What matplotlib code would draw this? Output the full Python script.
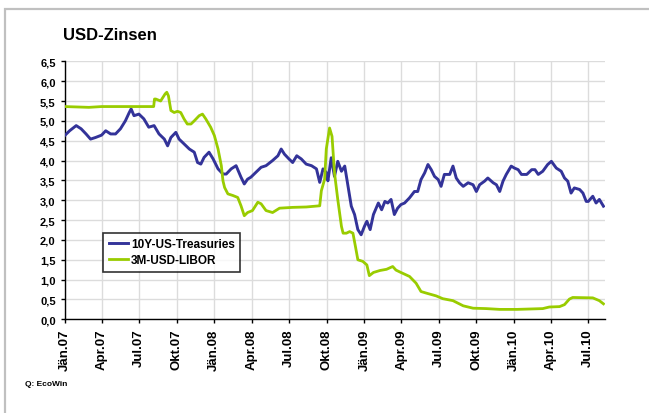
import numpy as np
import pandas as pd
import matplotlib
matplotlib.use('Agg')
import matplotlib.pyplot as plt
from matplotlib.patches import Rectangle
from matplotlib.ticker import FuncFormatter

plt.rcParams['font.family'] = ['Liberation Sans', 'DejaVu Sans']

# 10Y US Treasuries
tsy_dates = [
    '2007-01-01', '2007-01-13', '2007-01-29', '2007-02-10', '2007-02-22', '2007-03-05',
    '2007-03-17', '2007-04-01', '2007-04-11', '2007-04-23', '2007-05-05', '2007-05-17',
    '2007-05-29', '2007-06-07', '2007-06-12', '2007-06-19', '2007-07-01', '2007-07-13',
    '2007-07-25', '2007-08-07', '2007-08-19', '2007-09-01', '2007-09-09', '2007-09-17',
    '2007-09-29', '2007-10-07', '2007-10-19', '2007-11-01', '2007-11-13', '2007-11-21',
    '2007-11-29', '2007-12-07', '2007-12-19', '2007-12-29', '2008-01-10', '2008-01-22',
    '2008-01-30', '2008-02-11', '2008-02-23', '2008-03-06', '2008-03-14', '2008-03-22',
    '2008-03-30', '2008-04-11', '2008-04-24', '2008-05-06', '2008-05-22', '2008-06-04',
    '2008-06-12', '2008-06-20', '2008-07-01', '2008-07-10', '2008-07-20', '2008-07-31',
    '2008-08-12', '2008-08-25', '2008-09-06', '2008-09-14', '2008-09-22', '2008-09-30',
    '2008-10-04', '2008-10-12', '2008-10-20', '2008-10-28', '2008-11-06', '2008-11-14',
    '2008-11-22', '2008-11-30', '2008-12-08', '2008-12-16', '2008-12-24', '2009-01-01',
    '2009-01-07', '2009-01-15', '2009-01-23', '2009-02-04', '2009-02-12', '2009-02-20',
    '2009-02-27', '2009-03-07', '2009-03-15', '2009-03-23', '2009-03-31', '2009-04-09',
    '2009-04-21', '2009-05-03', '2009-05-11', '2009-05-19', '2009-05-28', '2009-06-05',
    '2009-06-13', '2009-06-21', '2009-06-30', '2009-07-07', '2009-07-15', '2009-07-28',
    '2009-08-05', '2009-08-13', '2009-08-21', '2009-08-30', '2009-09-11', '2009-09-23',
    '2009-10-01', '2009-10-09', '2009-10-21', '2009-10-29', '2009-11-11', '2009-11-19',
    '2009-11-27', '2009-12-05', '2009-12-13', '2009-12-25', '2010-01-02', '2010-01-11',
    '2010-01-19', '2010-02-01', '2010-02-13', '2010-02-21', '2010-03-01', '2010-03-12',
    '2010-03-24', '2010-04-02', '2010-04-14', '2010-04-26', '2010-05-04', '2010-05-12',
    '2010-05-20', '2010-05-28', '2010-06-10', '2010-06-18', '2010-06-26', '2010-07-01',
    '2010-07-12', '2010-07-20', '2010-07-28', '2010-08-07',
]
tsy_values = [
    4.63, 4.75, 4.88, 4.80, 4.67, 4.54,
    4.58, 4.64, 4.75, 4.67, 4.67, 4.80,
    5.00, 5.20, 5.30, 5.13, 5.17, 5.05,
    4.84, 4.88, 4.67, 4.54, 4.37, 4.58,
    4.71, 4.54, 4.42, 4.29, 4.21, 3.95,
    3.91, 4.08, 4.21, 4.04, 3.79, 3.66,
    3.66, 3.79, 3.87, 3.58, 3.41, 3.53,
    3.58, 3.70, 3.83, 3.87, 4.00, 4.12,
    4.29, 4.16, 4.04, 3.95, 4.12, 4.04,
    3.91, 3.87, 3.79, 3.45, 3.79, 3.70,
    3.49, 4.07, 3.60, 3.98, 3.73, 3.86,
    3.35, 2.85, 2.64, 2.26, 2.13, 2.34,
    2.47, 2.26, 2.64, 2.93, 2.76, 2.97,
    2.93, 3.02, 2.64, 2.80, 2.89, 2.93,
    3.06, 3.22, 3.22, 3.52, 3.69, 3.90,
    3.77, 3.60, 3.52, 3.35, 3.65, 3.65,
    3.86, 3.56, 3.44, 3.35, 3.44, 3.39,
    3.22, 3.39, 3.48, 3.56, 3.44, 3.39,
    3.22, 3.48, 3.65, 3.86, 3.81, 3.77,
    3.65, 3.65, 3.77, 3.77, 3.65, 3.73,
    3.90, 3.98, 3.81, 3.73, 3.56, 3.48,
    3.18, 3.31, 3.27, 3.18, 2.97, 2.97,
    3.10, 2.93, 3.02, 2.85,
]

# 3M USD LIBOR
libor_dates = [
    '2007-01-01', '2007-03-01', '2007-04-01', '2007-08-06', '2007-08-08', '2007-08-11',
    '2007-08-23', '2007-09-03', '2007-09-07', '2007-09-11', '2007-09-17', '2007-09-25',
    '2007-10-03', '2007-10-11', '2007-10-19', '2007-10-27', '2007-11-05', '2007-11-13',
    '2007-11-25', '2007-12-03', '2007-12-11', '2007-12-23', '2008-01-01', '2008-01-10',
    '2008-01-18', '2008-01-22', '2008-01-26', '2008-02-03', '2008-02-15', '2008-02-27',
    '2008-03-06', '2008-03-14', '2008-03-22', '2008-04-03', '2008-04-16', '2008-04-24',
    '2008-05-06', '2008-05-22', '2008-06-08', '2008-07-10', '2008-08-12', '2008-09-14',
    '2008-09-18', '2008-09-26', '2008-09-30', '2008-10-08', '2008-10-14', '2008-10-20',
    '2008-10-28', '2008-11-06', '2008-11-10', '2008-11-18', '2008-11-26', '2008-12-04',
    '2008-12-10', '2008-12-16', '2008-12-28', '2009-01-07', '2009-01-13', '2009-01-23',
    '2009-02-08', '2009-02-24', '2009-03-11', '2009-03-19', '2009-03-31', '2009-04-21',
    '2009-05-07', '2009-05-19', '2009-06-01', '2009-06-25', '2009-07-11', '2009-08-05',
    '2009-08-30', '2009-09-23', '2009-10-25', '2009-11-27', '2010-01-08', '2010-02-09',
    '2010-03-12', '2010-03-28', '2010-04-22', '2010-05-04', '2010-05-16', '2010-05-24',
    '2010-07-12', '2010-07-28', '2010-08-07',
]
libor_values = [
    5.36, 5.34, 5.36, 5.36, 5.55, 5.55,
    5.50, 5.68, 5.72, 5.63, 5.26, 5.21,
    5.24, 5.21, 5.05, 4.92, 4.92, 5.00,
    5.13, 5.17, 5.05, 4.84, 4.63, 4.29,
    3.87, 3.49, 3.32, 3.16, 3.12, 3.07,
    2.86, 2.61, 2.69, 2.74, 2.95, 2.91,
    2.74, 2.69, 2.80, 2.82, 2.83, 2.86,
    3.24, 3.53, 4.29, 4.82, 4.61, 3.69,
    3.02, 2.34, 2.17, 2.17, 2.21, 2.17,
    1.84, 1.50, 1.46, 1.37, 1.10, 1.18,
    1.23, 1.26, 1.33, 1.24, 1.18, 1.08,
    0.91, 0.70, 0.66, 0.59, 0.52, 0.47,
    0.34, 0.28, 0.27, 0.25, 0.25, 0.26,
    0.27, 0.31, 0.32, 0.37, 0.51, 0.55,
    0.54, 0.47, 0.39,
]

tick_labels = ['Jän.07', 'Apr.07', 'Jul.07', 'Okt.07', 'Jän.08', 'Apr.08', 'Jul.08', 'Okt.08',
               'Jän.09', 'Apr.09', 'Jul.09', 'Okt.09', 'Jän.10', 'Apr.10', 'Jul.10']
tick_dates = pd.date_range('2007-01-01', '2010-07-01', freq='QS')

fig = plt.figure(figsize=(6.49, 4.14), dpi=100)
ax = fig.add_axes([0.0997, 0.2263, 0.832, 0.6232])

# grey outer frame
fig.patches.append(Rectangle((5 / 649, -0.5), 2.0, 1.5 - 10 / 414, transform=fig.transFigure,
                             fill=False, edgecolor='#c0c0c0', linewidth=1.6, clip_on=False))

ax.plot(pd.to_datetime(tsy_dates), tsy_values, color='#333399', lw=2.1, label='10Y-US-Treasuries',
        solid_joinstyle='round', zorder=3)
ax.plot(pd.to_datetime(libor_dates), libor_values, color='#99cc00', lw=2.0, label='3M-USD-LIBOR',
        solid_joinstyle='round', zorder=3)

ax.set_xlim(pd.Timestamp('2007-01-01'), pd.Timestamp('2010-08-10'))
ax.set_ylim(0, 6.5)
ax.set_yticks(np.arange(0, 6.51, 0.5))
ax.yaxis.set_major_formatter(FuncFormatter(lambda v, p: '{:.1f}'.format(v).replace('.', ',')))
ax.set_xticks(tick_dates)
ax.set_xticklabels(tick_labels, rotation=90, fontweight='bold', fontsize=9.5)
for lab in ax.get_yticklabels():
    lab.set_fontweight('bold')
    lab.set_fontsize(8)

ax.grid(True, color='#dcdcdc', linewidth=1)
ax.set_axisbelow(True)
for s in ['top', 'right']:
    ax.spines[s].set_visible(False)
ax.spines['left'].set_linewidth(1)
ax.spines['bottom'].set_linewidth(1)
ax.tick_params(axis='y', direction='out', length=3, width=1, pad=3.5)
ax.tick_params(axis='x', direction='out', length=3, width=1, pad=3.5)

leg = ax.legend(loc='lower left', bbox_to_anchor=(0.0715, 0.1845), borderaxespad=0,
                fancybox=False, frameon=True, prop={'weight': 'bold', 'size': 8.5},
                handlelength=1.6, handletextpad=0.3, labelspacing=0.35, borderpad=0.45)
leg.get_frame().set_edgecolor('black')
leg.get_frame().set_linewidth(1.2)

fig.text(63 / 649, 1 - 35 / 414, 'USD-Zinsen', fontsize=12, fontweight='bold', va='center', ha='left')
fig.text(25 / 649, 1 - 385 / 414, 'Q: EcoWin', fontsize=6, fontweight='bold', va='center', ha='left')

fig.savefig('out.png', dpi=100)
